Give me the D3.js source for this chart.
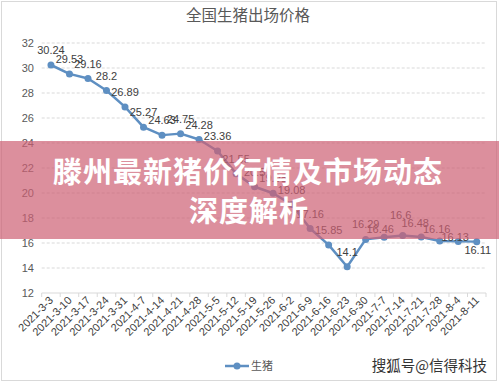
<!DOCTYPE html>
<html>
<head>
<meta charset="utf-8">
<script src="https://cdn.jsdelivr.net/npm/d3@7"></script>
<style>
  body { margin: 0; background: #fff; }
  svg { display: block; }
</style>
</head>
<body>
<script>
var dates = ["2021-3-3", "2021-3-10", "2021-3-17", "2021-3-24", "2021-3-31", "2021-4-7",
             "2021-4-14", "2021-4-21", "2021-4-28", "2021-5-5", "2021-5-12", "2021-5-19",
             "2021-5-26", "2021-6-2", "2021-6-9", "2021-6-16", "2021-6-23", "2021-6-30",
             "2021-7-7", "2021-7-14", "2021-7-21", "2021-7-28", "2021-8-4", "2021-8-11"];
var prices = [30.24, 29.53, 29.16, 28.2, 26.89, 25.27, 24.63, 24.75, 24.28, 23.36, 21.55, 20.5,
              19.98, 19.08, 17.16, 15.85, 14.1, 16.29, 16.46, 16.6, 16.48, 16.16, 16.13, 16.11];
var yTicks = [12, 14, 16, 18, 20, 22, 24, 26, 28, 30, 32];
var title = "全国生猪出场价格";
var seriesName = "生猪";
var bannerLines = ["滕州最新猪价行情及市场动态", "深度解析"];
var watermark = "搜狐号@信得科技";

// label nudges where excel moved them around
var labelNudge = { 18: [-4, 7], 19: [-2, -6], 20: [-6, 1], 21: [-3, 3], 22: [-3, 11], 23: [1, 23] };

var width = 499, height = 383;
var plotL = 41.7, plotR = 486, plotT = 43, plotB = 293;
var lineColor = "#5e8fc2";
var textColor = "#595959";

var svg = d3.select("body").append("svg")
    .attr("width", width)
    .attr("height", height);

svg.append("rect")
    .attr("x", 1.5).attr("y", 1.5)
    .attr("width", width - 4).attr("height", height - 4)
    .attr("fill", "#fff")
    .attr("stroke", "#d9d9d9");

var x = d3.scalePoint().domain(dates).range([plotL, plotR]).padding(0.5);
var y = d3.scaleLinear().domain([12, 32]).range([plotB, plotT]);
var step = x.step();

svg.append("text")
    .attr("x", 248).attr("y", 21)
    .attr("text-anchor", "middle")
    .attr("font-family", "Noto Sans CJK SC")
    .attr("font-size", "15.5px")
    .attr("fill", textColor)
    .text(title);

// grid
svg.selectAll("line.grid")
    .data(yTicks.slice(1))
    .enter().append("line")
    .attr("class", "grid")
    .attr("x1", plotL).attr("x2", plotR)
    .attr("y1", function(d) { return y(d); })
    .attr("y2", function(d) { return y(d); })
    .attr("stroke", "#d9d9d9")
    .attr("stroke-dasharray", "3,2");

svg.selectAll("text.ytick")
    .data(yTicks)
    .enter().append("text")
    .attr("class", "ytick")
    .attr("x", 34)
    .attr("y", function(d) { return y(d) + 4; })
    .attr("text-anchor", "end")
    .attr("font-family", "Liberation Sans, Arial, sans-serif")
    .attr("font-size", "11px")
    .attr("fill", textColor)
    .text(function(d) { return d; });

// category axis with ticks between categories
var xAxis = d3.axisBottom(x).tickSize(0).tickFormat("");
var gx = svg.append("g").attr("transform", "translate(0," + plotB + ")").call(xAxis);
gx.select(".domain").attr("stroke", "#d9d9d9").attr("d", "M" + plotL + ",0H" + plotR);

svg.selectAll("line.xtick")
    .data(dates.concat(["end"]))
    .enter().append("line")
    .attr("class", "xtick")
    .attr("x1", function(d, i) { return plotL + i * step; })
    .attr("x2", function(d, i) { return plotL + i * step; })
    .attr("y1", plotB).attr("y2", plotB + 4)
    .attr("stroke", "#d9d9d9");

svg.selectAll("text.xlab")
    .data(dates)
    .enter().append("text")
    .attr("class", "xlab")
    .attr("transform", function(d) { return "translate(" + (x(d) + 3) + "," + (plotB + 8) + ") rotate(-45)"; })
    .attr("text-anchor", "end")
    .attr("font-family", "Liberation Sans, Arial, sans-serif")
    .attr("font-size", "11px")
    .attr("fill", "#404040")
    .text(function(d) { return d; });

// series
var line = d3.line()
    .x(function(d, i) { return x(dates[i]); })
    .y(function(d) { return y(d); });

svg.append("path")
    .datum(prices)
    .attr("d", line)
    .attr("fill", "none")
    .attr("stroke", lineColor)
    .attr("stroke-width", 2.5)
    .attr("stroke-linejoin", "round");

svg.selectAll("circle.pt")
    .data(prices)
    .enter().append("circle")
    .attr("class", "pt")
    .attr("cx", function(d, i) { return x(dates[i]); })
    .attr("cy", function(d) { return y(d); })
    .attr("r", 3.5)
    .attr("fill", lineColor);

svg.selectAll("text.val")
    .data(prices)
    .enter().append("text")
    .attr("class", "val")
    .attr("x", function(d, i) { return x(dates[i]) + (labelNudge[i] ? labelNudge[i][0] : 0); })
    .attr("y", function(d, i) { return y(d) - 11 + (labelNudge[i] ? labelNudge[i][1] : 0); })
    .attr("text-anchor", "middle")
    .attr("font-family", "Liberation Sans, Arial, sans-serif")
    .attr("font-size", "11px")
    .attr("fill", "#404040")
    .text(function(d) { return d; });

// legend
svg.append("line")
    .attr("x1", 225).attr("x2", 249).attr("y1", 366).attr("y2", 366)
    .attr("stroke", lineColor).attr("stroke-width", 2.5);
svg.append("circle")
    .attr("cx", 237).attr("cy", 366).attr("r", 3.5).attr("fill", lineColor);
svg.append("text")
    .attr("x", 251).attr("y", 370)
    .attr("font-family", "Noto Sans CJK SC")
    .attr("font-size", "11px")
    .attr("fill", textColor)
    .text(seriesName);

svg.append("text")
    .attr("x", 487).attr("y", 371)
    .attr("text-anchor", "end")
    .attr("font-family", "Noto Sans CJK SC")
    .attr("font-size", "14.5px")
    .attr("fill", "#333")
    .text(watermark);

// pink overlay banner
svg.append("rect")
    .attr("x", 0).attr("y", 141)
    .attr("width", width).attr("height", 98)
    .attr("fill", "rgb(205,95,115)")
    .attr("fill-opacity", 0.7);

svg.selectAll("text.banner")
    .data(bannerLines)
    .enter().append("text")
    .attr("class", "banner")
    .attr("x", function(d, i) { return i === 0 ? 248 : 249; })
    .attr("y", function(d, i) { return 183 + i * 39; })
    .attr("text-anchor", "middle")
    .attr("font-family", "Noto Sans CJK SC")
    .attr("font-weight", 700)
    .attr("font-size", "29px")
    .attr("letter-spacing", "1px")
    .attr("fill", "#fff")
    .text(function(d) { return d; });
</script>
</body>
</html>
